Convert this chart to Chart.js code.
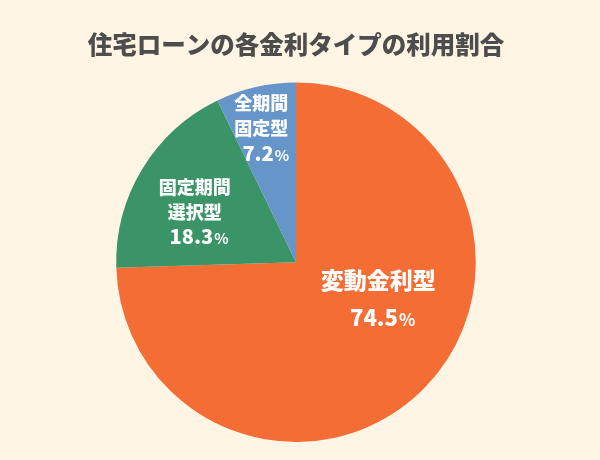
<!DOCTYPE html>
<html lang="ja">
<head>
<meta charset="utf-8">
<script src="https://cdn.jsdelivr.net/npm/chart.js@4"></script>
<style>
  html, body { margin: 0; padding: 0; background: #fff5e4; }
  #wrap { width: 600px; height: 460px; }
</style>
</head>
<body>
<div id="wrap"><canvas id="pie"></canvas></div>
<script>
// ── DATA ───────────────────────────────────────
const labels  = ['変動金利型', '固定期間選択型', '全期間固定型'];
const lines   = [['変動金利型'], ['固定期間', '選択型'], ['全期間', '固定型']];
const values  = [74.5, 18.3, 7.2];
const colors  = ['#f46d35', '#3a9468', '#6595c9'];

// label spot per slice: angle from top (deg, clockwise) and fraction of radius
const labelAng  = [114, 296.5, 345.5];
const labelFrac = [0.5, 0.63, 0.77];
const nameSize  = [23, 18, 18];
const numSize   = [22, 20, 20];
const lineGap   = [38, 25, 25];

const FONT = '"Noto Sans CJK JP", "Noto Sans", sans-serif';

// ── SLICE LABELS ───────────────────────────────
const sliceLabels = {
  id: 'sliceLabels',
  afterDatasetsDraw(chart) {
    const { ctx } = chart;
    const arcs = chart.getDatasetMeta(0).data;
    ctx.save();
    ctx.fillStyle = '#ffffff';
    ctx.textAlign = 'center';
    ctx.textBaseline = 'middle';
    arcs.forEach((arc, i) => {
      const a = (labelAng[i] - 90) * Math.PI / 180;
      const r = arc.outerRadius * labelFrac[i];
      const cx = arc.x + Math.cos(a) * r;
      const cy = arc.y + Math.sin(a) * r;
      const rows = lines[i];
      const total = rows.length + 1;
      let y = cy - (total - 1) * lineGap[i] / 2;
      ctx.font = `900 ${nameSize[i]}px ${FONT}`;
      rows.forEach(t => { ctx.fillText(t, cx, y); y += lineGap[i]; });

      // number with a smaller percent sign
      const num = values[i].toFixed(1);
      ctx.font = `900 ${numSize[i]}px ${FONT}`;
      const wNum = ctx.measureText(num).width;
      ctx.font = `bold ${numSize[i] - 5}px ${FONT}`;
      const wPct = ctx.measureText('%').width;
      const x0 = cx - (wNum + wPct) / 2 + 4;
      ctx.textAlign = 'left';
      ctx.font = `900 ${numSize[i]}px ${FONT}`;
      ctx.fillText(num, x0, y);
      ctx.font = `bold ${numSize[i] - 5}px ${FONT}`;
      ctx.fillText('%', x0 + wNum + 1, y + 2);
      ctx.textAlign = 'center';
    });
    ctx.restore();
  }
};

new Chart(document.getElementById('pie'), {
  type: 'pie',
  data: {
    labels: labels,
    datasets: [{
      data: values,
      backgroundColor: colors,
      borderWidth: 0
    }]
  },
  options: {
    responsive: true,
    maintainAspectRatio: false,
    animation: false,
    layout: { padding: { left: 0, right: 8, top: 0, bottom: 18 } },
    plugins: {
      legend: { display: false },
      tooltip: { enabled: false },
      title: {
        display: true,
        text: '住宅ローンの各金利タイプの利用割合',
        color: '#4d4d4d',
        font: { family: FONT, size: 24.5, weight: 900, lineHeight: 1.2 },
        padding: { top: 30, bottom: 23 }
      }
    }
  },
  plugins: [sliceLabels]
});
</script>
</body>
</html>
